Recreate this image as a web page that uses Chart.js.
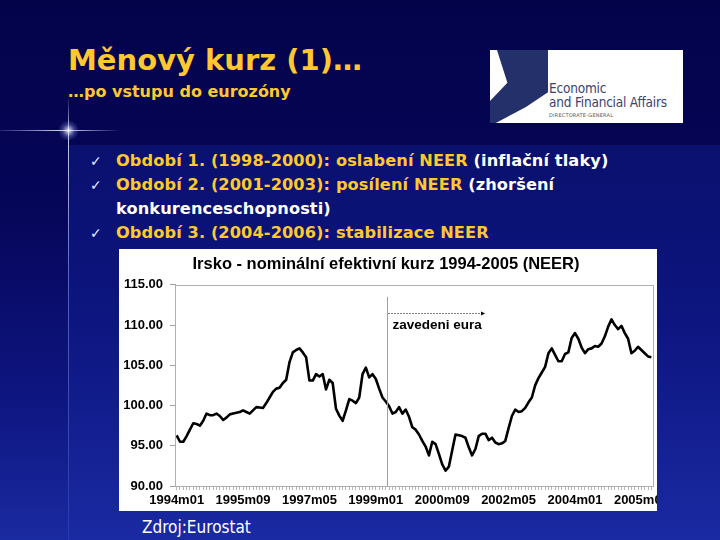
<!DOCTYPE html>
<html>
<head>
<meta charset="utf-8">
<script src="https://cdn.jsdelivr.net/npm/chart.js@4"></script>
<style>
  html, body { margin: 0; padding: 0; }
  body {
    width: 720px; height: 540px; overflow: hidden; position: relative;
    background: linear-gradient(180deg, #03034a 0%, #06065a 40%, #0e1682 75%, #1a2aa0 100%);
    font-family: "DejaVu Sans", Verdana, sans-serif;
  }
  .panel {
    position: absolute; left: 68px; top: 145px; width: 652px; height: 395px;
    background: linear-gradient(180deg, #09106e 0%, #0d1580 45%, #1a2aa2 100%);
  }
  .vline {
    position: absolute; left: 68px; top: 96px; width: 1px; height: 444px;
    background: linear-gradient(180deg, rgba(255,255,255,0) 0%, rgba(220,230,255,0.9) 8%, rgba(160,180,255,0.5) 40%, rgba(120,140,255,0.15) 100%);
  }
  .hline {
    position: absolute; left: 0; top: 130px; width: 120px; height: 1px;
    background: linear-gradient(90deg, rgba(120,140,255,0.2) 0%, rgba(230,235,255,0.95) 55%, rgba(255,255,255,0) 100%);
  }
  .glow {
    position: absolute; left: 58px; top: 120px; width: 21px; height: 21px; border-radius: 50%;
    background: radial-gradient(circle, rgba(255,255,255,0.9) 0%, rgba(160,180,255,0.3) 40%, rgba(0,0,0,0) 70%);
  }
  .title {
    position: absolute; left: 68px; top: 43px; color: #ffc82e;
    font-weight: bold; font-size: 29px; letter-spacing: 0px; white-space: nowrap;
  }
  .subtitle {
    position: absolute; left: 68px; top: 82px; color: #ffc82e;
    font-weight: bold; font-size: 16px; white-space: nowrap;
  }
  .logo {
    position: absolute; left: 490px; top: 50px; width: 193px; height: 73px; background: #fff; overflow: hidden;
  }
  .logo .band {
    position: absolute; left: 0; top: 0; width: 58px; height: 73px; background: #24306a;
    clip-path: polygon(12% 0, 100% 0, 100% 58%, 62% 78%, 10% 100%, 0 100%, 0 70%, 30% 45%);
  }
  .logo .t1 { position: absolute; left: 59px; top: 31px; font-size: 13.5px; color: #3a4470; font-family: "DejaVu Sans Condensed", "DejaVu Sans", sans-serif; line-height: 14px; letter-spacing: -0.2px; }
  .logo .t3 { position: absolute; left: 59px; top: 62px; font-size: 5px; color: #555; letter-spacing: 0.2px; }
  .bullets { position: absolute; left: 90px; top: 149px; }
  .row { position: absolute; white-space: nowrap; font-weight: bold; font-size: 16.2px; line-height: 24px; }
  .chk { position: absolute; left: 0; color: #e8ecff; font-size: 14px; font-weight: normal; }
  .txt { position: absolute; left: 26px; color: #ffc82e; letter-spacing: 0.1px; }
  .w { color: #ffffff; }
  .box { position: absolute; left: 119px; top: 249px; width: 538px; height: 262px; background: #fff; }
  .src { position: absolute; left: 142px; top: 517px; color: #fff; font-size: 17px; font-family: "DejaVu Sans Condensed", "DejaVu Sans", sans-serif; }
</style>
</head>
<body>
<div class="panel"></div>
<div class="vline"></div>
<div class="hline"></div>
<div class="glow"></div>

<div class="title">Měnový kurz (1)…</div>
<div class="subtitle">…po vstupu do eurozóny</div>

<div class="logo">
  <div class="band"></div>
  <div class="t1">Economic<br>and Financial Affairs</div>
  <div class="t3">DIRECTORATE-GENERAL</div>
</div>

<div class="bullets">
  <div class="row" style="top:0px"><span class="chk">✓</span><span class="txt">Období 1. (1998-2000): oslabení NEER <span class="w">(inflační tlaky)</span></span></div>
  <div class="row" style="top:24px"><span class="chk">✓</span><span class="txt">Období 2. (2001-2003): posílení NEER <span class="w">(zhoršení</span></span></div>
  <div class="row" style="top:48px"><span class="txt w">konkurenceschopnosti)</span></div>
  <div class="row" style="top:72px"><span class="chk">✓</span><span class="txt">Období 3. (2004-2006): stabilizace NEER</span></div>
</div>

<div class="box"><canvas id="neer" width="538" height="262"></canvas></div>
<div class="src">Zdroj:Eurostat</div>

<script>
// monthly categories 1994m01 .. 2005m12
const years = [1994, 1995, 1996, 1997, 1998, 1999, 2000, 2001, 2002, 2003, 2004, 2005];
const months = ['01','02','03','04','05','06','07','08','09','10','11','12'];
const labels = [];
years.forEach(y => months.forEach(m => labels.push(y + 'm' + m)));

// NEER index
const neer = [
  96.3, 95.5, 95.5, 96.2, 97.0, 97.8, 97.7, 97.5, 98.1, 99.0, 98.8, 98.8,
  99.0, 98.7, 98.2, 98.5, 98.9, 99.0, 99.1, 99.2, 99.4, 99.2, 99.0, 99.4,
  99.8, 99.75, 99.7, 100.3, 101.0, 101.7, 102.1, 102.2, 102.8, 103.2, 105.4, 106.6,
  106.9, 107.1, 106.6, 106.0, 103.1, 103.1, 103.9, 103.6, 103.9, 102.0, 103.2, 102.8,
  99.6, 98.75, 98.1, 99.4, 100.8, 100.6, 100.3, 101.0, 103.9, 104.7, 103.5, 103.9,
  103.3, 102.1, 101.0, 100.5, 99.9, 99.0, 99.2, 99.8, 99.0, 99.5, 98.6, 97.3,
  97.0, 96.4, 95.6, 94.9, 93.8, 95.5, 95.2, 94.0, 92.7, 91.9, 92.4, 94.4,
  96.4, 96.3, 96.2, 96.0, 94.8, 93.8, 94.6, 96.2, 96.5, 96.5, 95.7, 96.0,
  95.4, 95.2, 95.3, 95.6, 97.2, 98.7, 99.5, 99.2, 99.3, 99.7, 100.4, 101.0,
  102.5, 103.4, 104.1, 104.8, 106.5, 107.1, 106.3, 105.5, 105.5, 106.4, 106.6, 108.4,
  109.0, 108.3, 107.2, 106.5, 107.0, 107.1, 107.4, 107.3, 107.7, 108.6, 109.8, 110.7,
  110.0, 109.5, 109.9, 109.0, 108.3, 106.5, 106.8, 107.3, 106.9, 106.5, 106.1, 106.0
];

const yTicks = [90, 95, 100, 105, 110, 115];
const labelEvery = 20;

// "zavedeni eura" marker, in category positions / index values
const euroLine = 63.4;
const euroArrowEnd = 92.0;
const euroTop = 113.5;
const euroArrowY = 111.5;
const euroTextY = 110.0;

const boxPlugin = {
  id: 'boxPlugin',
  afterDatasetsDraw(chart) {
    const ctx = chart.ctx, a = chart.chartArea;
    const x = chart.scales.x, y = chart.scales.y;
    ctx.save();
    ctx.strokeStyle = '#b0b0b0';
    ctx.lineWidth = 1;
    ctx.strokeRect(Math.round(a.left) + 0.5, Math.round(a.top) + 0.5, Math.round(a.right - a.left), Math.round(a.bottom - a.top));

    const xv = Math.round(x.getPixelForValue(euroLine)) + 0.5;
    ctx.strokeStyle = '#a0a0a0';
    ctx.beginPath();
    ctx.moveTo(xv, y.getPixelForValue(euroTop));
    ctx.lineTo(xv, a.bottom);
    ctx.stroke();

    const ay = Math.round(y.getPixelForValue(euroArrowY)) + 0.5;
    const ax = x.getPixelForValue(euroArrowEnd);
    ctx.strokeStyle = '#000';
    ctx.setLineDash([1, 2]);
    ctx.beginPath();
    ctx.moveTo(xv + 1, ay);
    ctx.lineTo(ax, ay);
    ctx.stroke();
    ctx.setLineDash([]);
    ctx.fillStyle = '#000';
    ctx.beginPath();
    ctx.moveTo(ax + 3, ay);
    ctx.lineTo(ax - 1, ay - 2);
    ctx.lineTo(ax - 1, ay + 2);
    ctx.closePath();
    ctx.fill();

    ctx.font = 'bold 13.5px "Liberation Sans", Arial, sans-serif';
    ctx.textBaseline = 'middle';
    ctx.fillText('zavedeni eura', xv + 5, y.getPixelForValue(euroTextY));
    ctx.restore();
  }
};

const ct = document.getElementById('neer').getContext('2d');

const mChart = new Chart(ct, {
  type: 'line',
  data: {
    labels: labels,
    datasets: [{
      label: 'NEER',
      data: neer,
      borderColor: '#000000',
      borderWidth: 2.6,
      pointRadius: 0,
      tension: 0,
      borderJoinStyle: 'round'
    }]
  },
  options: {
    responsive: false,
    animation: false,
    layout: { padding: { left: 0, right: 4, top: 0, bottom: 0 } },
    plugins: {
      legend: { display: false },
      tooltip: { enabled: false },
      title: {
        display: true,
        text: 'Irsko - nominální efektivní kurz 1994-2005 (NEER)',
        color: '#000',
        font: { family: '"Liberation Sans", Arial, sans-serif', size: 16.5, weight: 'bold' },
        padding: { top: 6, bottom: 10 }
      }
    },
    scales: {
      x: {
        offset: true,
        afterFit: s => { s.height = 25; },
        border: { color: '#a0a0a0' },
        grid: { drawOnChartArea: false, tickLength: 4, color: '#b8b8b8' },
        ticks: {
          autoSkip: false,
          maxRotation: 0,
          padding: 3,
          color: '#000',
          font: { family: '"Liberation Sans", Arial, sans-serif', size: 13, weight: 'bold' },
          callback: (v, i) => (i % labelEvery === 0 ? labels[i] : '')
        }
      },
      y: {
        min: yTicks[0],
        max: yTicks[yTicks.length - 1],
        afterFit: s => { s.width = 56; },
        afterBuildTicks: s => { s.ticks = yTicks.map(v => ({ value: v })); },
        border: { color: '#a0a0a0' },
        grid: { drawOnChartArea: false, tickLength: 5, color: '#a0a0a0' },
        ticks: {
          padding: 7,
          color: '#000',
          font: { family: '"Liberation Sans", Arial, sans-serif', size: 13, weight: 'bold' },
          callback: v => Number(v).toFixed(2)
        }
      }
    }
  },
  plugins: [boxPlugin]
});
</script>
</body>
</html>
